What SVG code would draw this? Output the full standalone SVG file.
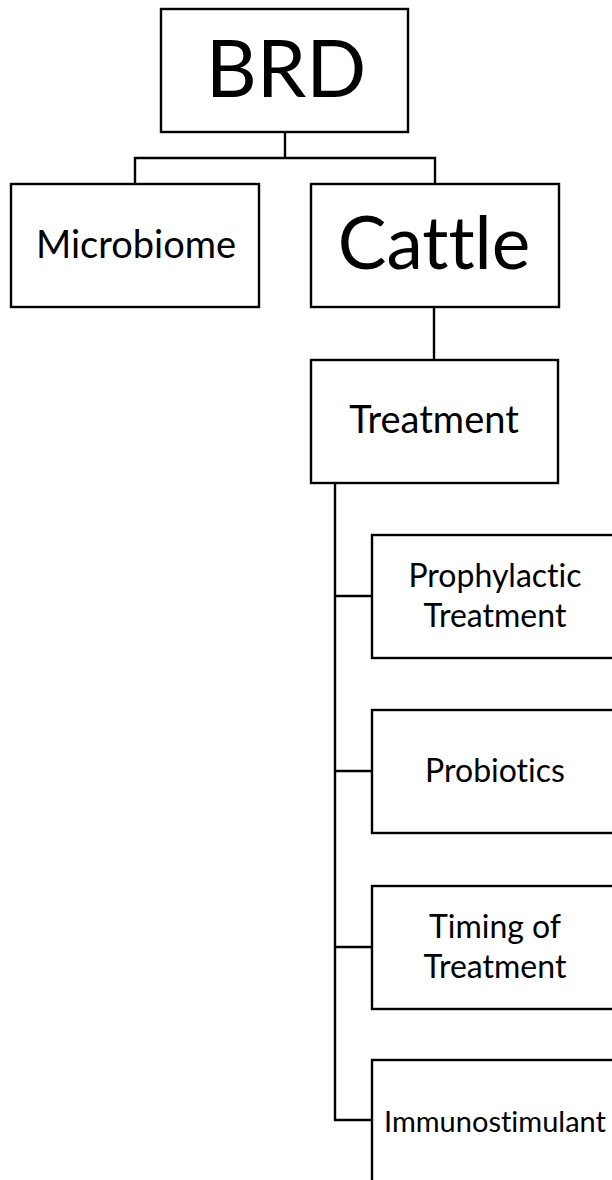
<svg xmlns="http://www.w3.org/2000/svg" width="612" height="1180" viewBox="0 0 612 1180">
<style>
.box{fill:#fff;stroke:#000;stroke-width:2.4}
.con{fill:none;stroke:#000;stroke-width:2.4}
text{font-family:Lato,"Liberation Sans",sans-serif;fill:#000;text-anchor:middle;font-variant-ligatures:none;font-feature-settings:"liga" 0,"dlig" 0}
</style>
<rect width="612" height="1180" fill="#fff"/>
<g id="connectors">
<path class="con" d="M285 132V158M135 184V158H435V184"/>
<path class="con" d="M434 307V360"/>
<path class="con" d="M335 483V1121M335 596H372M335 771H372M335 947H372M334 1120H372"/>
</g>
<g id="brd"><rect class="box" x="161" y="9" width="247" height="123"/><text x="286" y="97" font-size="79">BRD</text></g>
<g id="microbiome"><rect class="box" x="11" y="184" width="248" height="123"/><text x="136" y="258" font-size="38">Microbiome</text></g>
<g id="cattle"><rect class="box" x="311" y="184" width="248" height="123"/><text x="434" y="269" font-size="73">Cattle</text></g>
<g id="treatment"><rect class="box" x="311" y="360" width="247" height="123"/><text x="434" y="433" font-size="38">Treatment</text></g>
<g id="prophylactic"><rect class="box" x="372" y="535" width="248" height="123"/><text x="495" y="587" font-size="32">Prophylactic</text><text x="495" y="627" font-size="32">Treatment</text></g>
<g id="probiotics"><rect class="box" x="372" y="710" width="248" height="123"/><text x="495" y="782" font-size="32">Probiotics</text></g>
<g id="timing"><rect class="box" x="372" y="886" width="248" height="123"/><text x="495" y="938" font-size="32">Timing of</text><text x="495" y="978" font-size="32">Treatment</text></g>
<g id="immunostimulant"><rect class="box" x="372" y="1060" width="248" height="130"/><text x="495" y="1132" font-size="29">Immunostimulant</text></g>
</svg>
